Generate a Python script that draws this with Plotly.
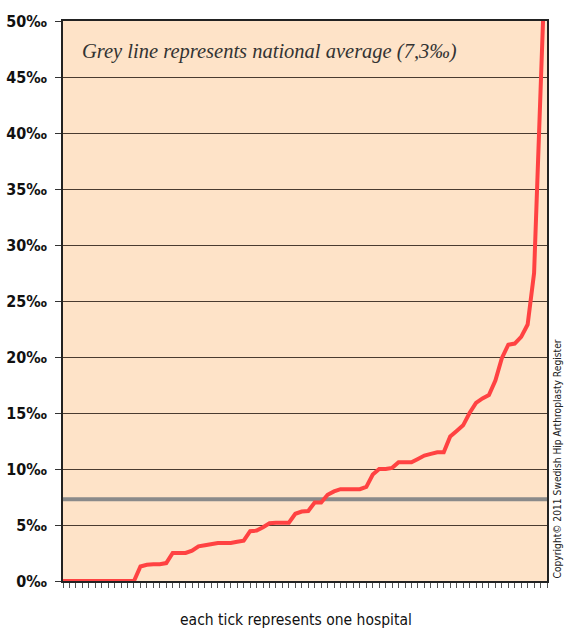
import plotly.graph_objects as go

# Revision rate per hospital (per mille), sorted ascending; one entry per hospital
hospital_index = list(range(76))
rate_permille = [
    0, 0, 0, 0, 0, 0, 0, 0, 0, 0, 0, 0,
    1.3, 1.45, 1.5, 1.5, 1.6, 2.5, 2.5, 2.5, 2.7, 3.1, 3.2, 3.3,
    3.4, 3.4, 3.4, 3.5, 3.6, 4.45, 4.5, 4.8, 5.15, 5.2, 5.2, 5.2,
    6.0, 6.2, 6.25, 7.0, 7.0, 7.7, 8.0, 8.2, 8.2, 8.2, 8.2, 8.4,
    9.5, 10.0, 10.0, 10.1, 10.6, 10.6, 10.6, 10.9, 11.2, 11.35, 11.5, 11.5,
    12.9, 13.4, 13.9, 15.0, 15.9, 16.3, 16.6, 17.9, 19.9, 21.1, 21.2, 21.8,
    22.9, 27.5, 41, 60,
]
national_average = 7.3

y_ticks = [0, 5, 10, 15, 20, 25, 30, 35, 40, 45, 50]
y_tick_labels = [f"{v}‰" for v in y_ticks]

x_max = 75
narrow = "DejaVu Sans Condensed, sans-serif"

fig = go.Figure()

# national average reference line
fig.add_trace(go.Scatter(
    x=[0, x_max], y=[national_average, national_average],
    mode="lines", line=dict(color="#8a8a8a", width=4), hoverinfo="skip",
    showlegend=False,
))

# hospital rates
fig.add_trace(go.Scatter(
    x=hospital_index, y=rate_permille, mode="lines",
    line=dict(color="#ff4242", width=4), showlegend=False,
))

fig.update_layout(
    width=564, height=630,
    margin=dict(l=63, r=17, t=21, b=49),
    paper_bgcolor="white",
    plot_bgcolor="#fee3c8",
    font=dict(family=narrow, color="#111"),
    xaxis=dict(
        range=[0, x_max], tickmode="linear", tick0=0, dtick=1,
        ticks="outside", ticklen=5, tickwidth=1, tickcolor="#555",
        showticklabels=False, showgrid=False, zeroline=False, automargin=False,
        showline=True, linecolor="#222", linewidth=1.5, mirror=True,
    ),
    yaxis=dict(
        range=[0, 50], tickvals=y_ticks, ticktext=y_tick_labels,
        ticks="outside", ticklen=6, tickwidth=1, tickcolor="#333",
        tickfont=dict(family=narrow, size=16, color="#111", weight="bold"),
        ticklabelstandoff=5, automargin=False,
        showgrid=True, gridcolor="#4a3b30", gridwidth=1, zeroline=False,
        showline=True, linecolor="#222", linewidth=1.5, mirror=True,
    ),
    annotations=[
        dict(text="<i>Grey line represents national average (7,3‰)</i>",
             xref="paper", yref="paper", x=0.035, y=0.945,
             xanchor="left", yanchor="middle", showarrow=False,
             font=dict(family="Liberation Serif, serif", size=20.5, color="#333"),
             ),
        dict(text="each tick represents one hospital",
             xref="paper", yref="paper", x=0.481, y=-0.07,
             xanchor="center", yanchor="middle", showarrow=False,
             font=dict(family=narrow, size=15.5, color="#111")),
        dict(text="Copyright© 2011 Swedish Hip Arthroplasty Register",
             xref="paper", yref="paper", x=1.0, y=0.0, xshift=10,
             xanchor="center", yanchor="bottom", textangle=-90, showarrow=False,
             font=dict(family=narrow, size=10.2, color="#222")),
    ],
)

fig.write_html("out.html")
